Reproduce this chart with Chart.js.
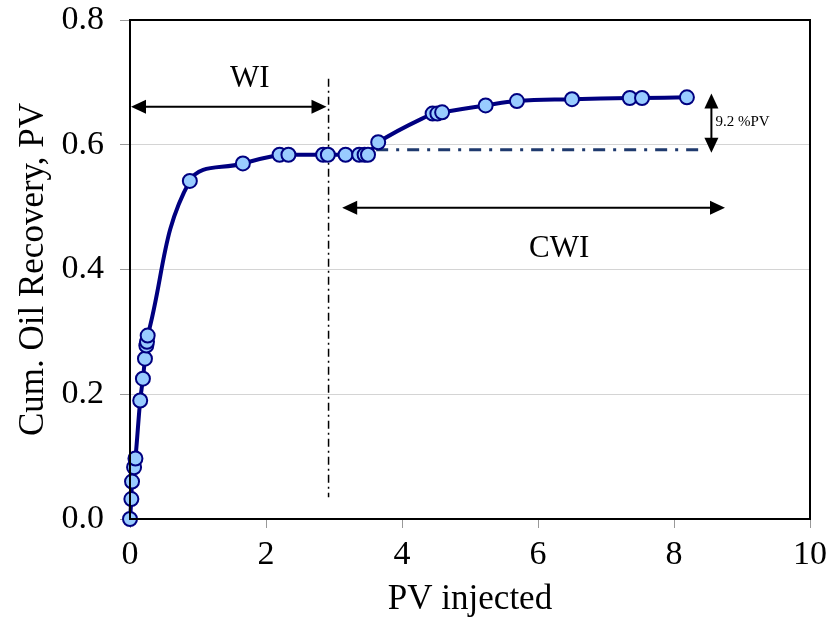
<!DOCTYPE html>
<html>
<head>
<meta charset="utf-8">
<script src="https://cdn.jsdelivr.net/npm/chart.js@4.4.1/dist/chart.umd.min.js"></script>
<style>
html,body{margin:0;padding:0;background:#fff;}
#wrap{width:828px;height:617px;position:relative;}
</style>
</head>
<body>
<div id="wrap"><canvas id="c" width="828" height="617"></canvas></div>
<script>
// Data
const pvInjected = [0, 0.02, 0.03, 0.06, 0.08, 0.15, 0.19, 0.22, 0.24, 0.25, 0.26, 0.88, 1.66, 2.20, 2.33, 2.84, 2.91, 3.17, 3.37, 3.45, 3.50, 3.65, 4.45, 4.52, 4.59, 5.23, 5.69, 6.50, 7.35, 7.53, 8.19];
const oilRecovery = [0, 0.032, 0.060, 0.083, 0.097, 0.190, 0.225, 0.257, 0.278, 0.284, 0.294, 0.542, 0.570, 0.584, 0.584, 0.584, 0.584, 0.584, 0.584, 0.584, 0.584, 0.604, 0.650, 0.650, 0.652, 0.663, 0.670, 0.673, 0.675, 0.675, 0.676];
const xTicks = [0, 2, 4, 6, 8, 10];
const yTicks = [0.0, 0.2, 0.4, 0.6, 0.8];

// Annotation geometry in data units
const wiLine = {x: 2.92, y0: 0.035, y1: 0.706};
const wiArrow = {x0: 0, x1: 2.89, y: 0.661};
const wiLabel = {text: "WI", x: 1.76, y: 0.706};
const cwiArrow = {x0: 3.12, x1: 8.75, y: 0.499};
const cwiLabel = {text: "CWI", x: 6.31, y: 0.433};
const baseLine = {x0: 3.62, x1: 8.45, y: 0.592};
const gainArrow = {x: 8.55, y0: 0.587, y1: 0.682};
const gainLabel = {text: "9.2 %PV", x: 8.61, y: 0.637};

const pts = pvInjected.map((x, i) => ({x: x, y: oilRecovery[i]}));
const SERIF = "'Liberation Serif', 'Times New Roman', serif";

function arrowHead(ctx, x, y, dx, dy, len, half) {
  const L = Math.hypot(dx, dy); const ux = dx / L, uy = dy / L;
  ctx.beginPath();
  ctx.moveTo(x, y);
  ctx.lineTo(x - ux * len - uy * half, y - uy * len + ux * half);
  ctx.lineTo(x - ux * len + uy * half, y - uy * len - ux * half);
  ctx.closePath();
  ctx.fill();
}
function doubleArrow(ctx, x0, y0, x1, y1) {
  ctx.save();
  ctx.strokeStyle = '#000'; ctx.fillStyle = '#000'; ctx.lineWidth = 2;
  const L = Math.hypot(x1 - x0, y1 - y0); const ux = (x1 - x0) / L, uy = (y1 - y0) / L;
  ctx.beginPath();
  ctx.moveTo(x0 + ux * 10, y0 + uy * 10);
  ctx.lineTo(x1 - ux * 10, y1 - uy * 10);
  ctx.stroke();
  arrowHead(ctx, x1, y1, ux, uy, 15, 7);
  arrowHead(ctx, x0, y0, -ux, -uy, 15, 7);
  ctx.restore();
}

const annot = {
  id: 'annot',
  beforeDatasetsDraw(chart) {
    const {ctx, scales: {x, y}} = chart;
    ctx.save();
    ctx.strokeStyle = '#1f3a6e'; ctx.lineWidth = 3;
    ctx.setLineDash([12, 8, 3, 8]);
    ctx.beginPath();
    ctx.moveTo(x.getPixelForValue(baseLine.x0), y.getPixelForValue(baseLine.y));
    ctx.lineTo(x.getPixelForValue(baseLine.x1), y.getPixelForValue(baseLine.y));
    ctx.stroke();
    ctx.strokeStyle = '#000'; ctx.lineWidth = 1.5;
    ctx.setLineDash([8, 4, 2, 4]);
    ctx.beginPath();
    ctx.moveTo(x.getPixelForValue(wiLine.x), y.getPixelForValue(wiLine.y1));
    ctx.lineTo(x.getPixelForValue(wiLine.x), y.getPixelForValue(wiLine.y0));
    ctx.stroke();
    ctx.setLineDash([]);
    ctx.restore();
  },
  afterDraw(chart) {
    const {ctx, chartArea: a, scales: {x, y}} = chart;
    ctx.save();
    ctx.strokeStyle = '#000'; ctx.lineWidth = 2;
    ctx.strokeRect(a.left, a.top, a.right - a.left, a.bottom - a.top);
    doubleArrow(ctx, x.getPixelForValue(wiArrow.x0) + 1, y.getPixelForValue(wiArrow.y), x.getPixelForValue(wiArrow.x1), y.getPixelForValue(wiArrow.y));
    doubleArrow(ctx, x.getPixelForValue(cwiArrow.x0), y.getPixelForValue(cwiArrow.y), x.getPixelForValue(cwiArrow.x1), y.getPixelForValue(cwiArrow.y));
    doubleArrow(ctx, x.getPixelForValue(gainArrow.x), y.getPixelForValue(gainArrow.y1), x.getPixelForValue(gainArrow.x), y.getPixelForValue(gainArrow.y0));
    ctx.fillStyle = '#000';
    ctx.textAlign = 'center'; ctx.textBaseline = 'middle';
    ctx.font = '31px ' + SERIF;
    ctx.fillText(wiLabel.text, x.getPixelForValue(wiLabel.x), y.getPixelForValue(wiLabel.y));
    ctx.fillText(cwiLabel.text, x.getPixelForValue(cwiLabel.x), y.getPixelForValue(cwiLabel.y));
    ctx.textAlign = 'left';
    ctx.font = '15px ' + SERIF;
    ctx.fillText(gainLabel.text, x.getPixelForValue(gainLabel.x), y.getPixelForValue(gainLabel.y));
    ctx.restore();
  }
};

new Chart(document.getElementById('c'), {
  type: 'scatter',
  data: {
    datasets: [{
      data: pts,
      showLine: true,
      clip: false,
      borderColor: '#000080',
      borderWidth: 4,
      tension: 0.4,
      pointRadius: 7,
      pointHoverRadius: 7,
      pointBackgroundColor: '#99ccff',
      pointBorderColor: '#000080',
      pointBorderWidth: 2
    }]
  },
  options: {
    responsive: false,
    animation: false,
    events: [],
    layout: {padding: {top: 20, right: 18, left: 0, bottom: 0}},
    plugins: {legend: {display: false}, tooltip: {enabled: false}},
    scales: {
      x: {
        type: 'linear', min: 0, max: 10,
        afterBuildTicks: s => { s.ticks = xTicks.map(v => ({value: v})); },
        afterFit: s => { s.height = 98; s.paddingLeft = 0; s.paddingRight = 0; },
        border: {display: false},
        grid: {drawOnChartArea: false, drawTicks: true, tickLength: 9, tickColor: '#999', lineWidth: 1},
        ticks: {color: '#000', font: {family: SERIF, size: 34}, padding: 7, callback: v => String(v)},
        title: {display: true, text: 'PV injected', color: '#000', font: {family: SERIF, size: 35, lineHeight: 1.0}, padding: {top: 2, bottom: 0}}
      },
      y: {
        type: 'linear', min: 0, max: 0.8,
        afterBuildTicks: s => { s.ticks = yTicks.map(v => ({value: v})); },
        afterFit: s => { s.width = 130; s.paddingTop = 0; s.paddingBottom = 0; },
        border: {display: false},
        grid: {
          color: c => (c.tick && (c.tick.value === 0 || Math.abs(c.tick.value - 0.8) < 1e-9)) ? 'rgba(0,0,0,0)' : '#d4d4d4',
          tickColor: '#999', tickLength: 10, lineWidth: 1
        },
        ticks: {color: '#000', font: {family: SERIF, size: 34}, padding: 16, callback: v => v.toFixed(1)},
        title: {display: true, text: 'Cum. Oil Recovery, PV', color: '#000', font: {family: SERIF, size: 35}, padding: {top: 13, bottom: 0}}
      }
    }
  },
  plugins: [annot]
});
</script>
</body>
</html>
